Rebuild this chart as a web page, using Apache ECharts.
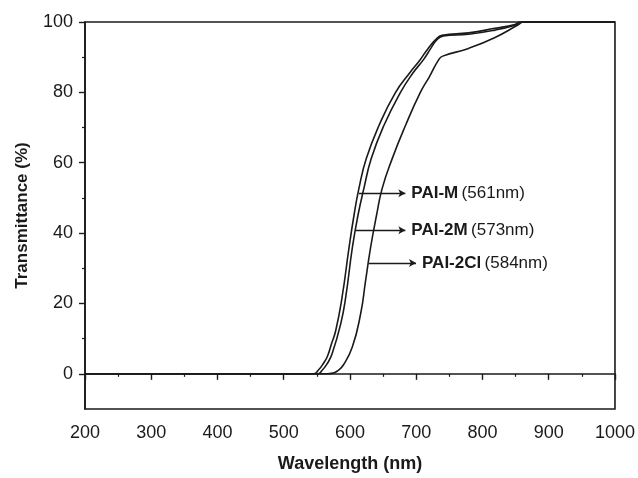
<html>
<head>
<meta charset="utf-8">
<title>Transmittance</title>
<script src="https://cdn.jsdelivr.net/npm/echarts@6/dist/echarts.min.js"></script>
</head>
<body style="margin:0">
<div id="main" style="width:638px;height:478px;"></div>
<script>
// wavelength (nm), transmittance (%)
var paiM = [[200,0],[545,0],[552,1],[560,3],[566,5],[572,8.5],[578.5,12.3],[588,21.7],[598.5,35.8],[606,45],[613.5,52.7],[624.5,61.1],[643.6,70.5],[668.6,79.9],[690,85.5],[706,89.3],[718,92.5],[729,94.9],[739,96.2],[779,96.9],[819,98.2],[849,99.3],[857,100],[1000,100]];
var pai2M = [[200,0],[551,0],[558,1],[566,3],[573,5.7],[586,14.2],[593.5,21.7],[603.5,35.8],[612,45],[621,52.7],[632,61.1],[651,70.5],[676,79.9],[695,85.5],[711,89.3],[722,92.5],[731,94.9],[741,96],[779,96.5],[819,97.7],[849,99.1],[859,100],[1000,100]];
var pai2Cl = [[200,0],[565,0],[574,0.2],[581,0.8],[590,2.5],[603.5,7.6],[616,17],[623.5,26.4],[631,35.8],[640,45],[648.6,52.7],[663.6,61.1],[683.6,70.5],[706,79.9],[720,84.5],[734,89.3],[740,90.3],[779,92.5],[819,95.6],[854,99.2],[862,100],[1000,100]];

var yMajor = [0,20,40,60,80,100];
var yMinor = [10,30,50,70,90];

// annotation arrows: start / end in data coords, label parts
var arrowFrom = [[613.5,51.3],[609,40.8],[628.6,31.5]];
var arrowTo = [[683.6,51.3],[683.6,40.8],[699.7,31.5]];
var arrowName = ['PAI-M','PAI-2M','PAI-2Cl'];
var arrowNm = ['(561nm)','(573nm)','(584nm)'];

var ink = '#1a1a1a';
var font = 'Liberation Sans, Arial, sans-serif';

var chart = echarts.init(document.getElementById('main'));

function curve(name, data) {
	return {
		name: name,
		type: 'line',
		data: data,
		showSymbol: false,
		smooth: 0.5,
		lineStyle: {color: ink, width: 1.6},
		z: 3
	};
}

var markData = [];
for (var i = 0; i < arrowFrom.length; i++) {
	markData.push([
		{coord: arrowFrom[i], symbol: 'none'},
		{coord: arrowTo[i], symbol: 'arrow', symbolSize: [6, 7],
			label: {formatter: '{b|' + arrowName[i] + '} {n|' + arrowNm[i] + '}'}}
	]);
}

var series = [curve('PAI-M', paiM), curve('PAI-2M', pai2M), curve('PAI-2Cl', pai2Cl)];
series[0].markLine = {
	silent: true,
	animation: false,
	lineStyle: {color: ink, width: 1.4, type: 'solid'},
	label: {
		show: true,
		position: 'end',
		distance: 6,
		rich: {
			b: {fontFamily: font, fontSize: 17, fontWeight: 'bold', color: ink},
			n: {fontFamily: font, fontSize: 17, color: ink}
		}
	},
	data: markData
};

option = {
	animation: false,
	grid: {left: 85, right: 21, top: 22, bottom: 65, show: true, borderColor: ink, borderWidth: 1.6},
	xAxis: {
		type: 'value',
		min: 200, max: 1000, interval: 100,
		name: 'Wavelength (nm)',
		nameLocation: 'middle',
		nameGap: 46,
		nameTextStyle: {fontFamily: font, fontSize: 18, fontWeight: 'bold', color: ink},
		axisLine: {lineStyle: {color: ink, width: 1.6}},
		axisTick: {length: 6, lineStyle: {color: ink, width: 1.4}},
		minorTick: {show: true, splitNumber: 2, length: 3, lineStyle: {color: ink, width: 1.2}},
		axisLabel: {fontFamily: font, fontSize: 18, color: ink, margin: 15,
			formatter: function (v) { return String(v); }},
		splitLine: {show: false}
	},
	yAxis: [{
		type: 'value',
		min: -10, max: 100, interval: 10,
		name: 'Transmittance (%)',
		nameLocation: 'middle',
		nameGap: 54,
		nameTextStyle: {fontFamily: font, fontSize: 17, fontWeight: 'bold', color: ink},
		axisLine: {show: true, lineStyle: {color: ink, width: 1.6}},
		axisTick: {show: true, length: 6, customValues: yMajor, lineStyle: {color: ink, width: 1.4}},
		axisLabel: {fontFamily: font, fontSize: 18, color: ink, margin: 12, customValues: yMajor},
		splitLine: {show: false}
	}, {
		type: 'value',
		min: -10, max: 100, interval: 10,
		position: 'left',
		axisLine: {show: false},
		axisTick: {show: true, length: 3, customValues: yMinor, lineStyle: {color: ink, width: 1.2}},
		axisLabel: {show: false},
		splitLine: {show: false}
	}],
	series: series
};

chart.setOption(option);
</script>
</body>
</html>
